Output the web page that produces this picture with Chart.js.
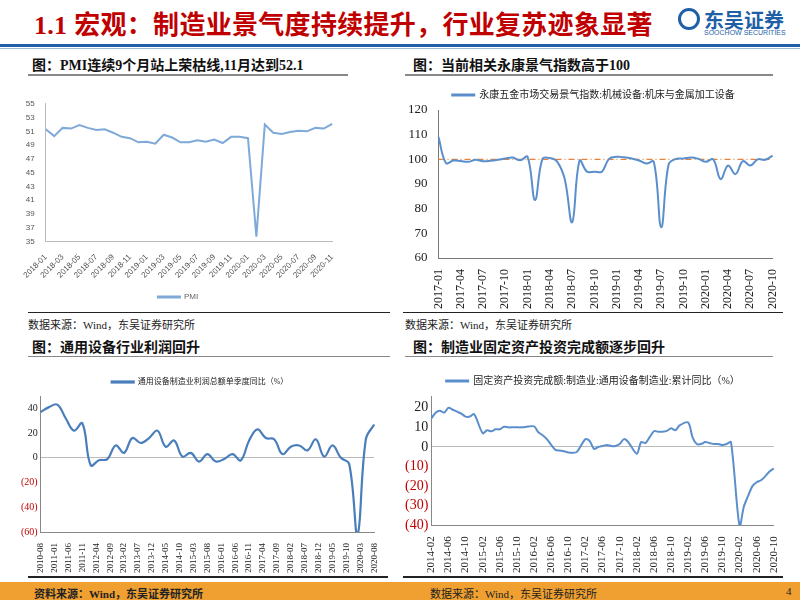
<!DOCTYPE html>
<html><head><meta charset="utf-8">
<script src="https://cdn.jsdelivr.net/npm/chart.js@4"></script>
<style>
body{margin:0;width:800px;height:600px;position:relative;background:#fff;font-family:"Liberation Serif","Noto Sans CJK SC",serif;overflow:hidden}
.a{position:absolute}
canvas{position:absolute}
.h{font-weight:bold;font-size:14px;color:#111}
.src{font-size:11px;color:#222}
</style></head><body>
<div class="a" style="left:34px;top:4px;font-size:26px;font-weight:bold;color:#c00000;letter-spacing:0.3px">1.1 宏观：制造业景气度持续提升，行业复苏迹象显著</div>
<div class="a" style="left:678px;top:8px;width:22px;height:22px;border:3px solid #1f5fa8;border-radius:50%;box-sizing:border-box"></div>
<div class="a" style="left:704px;top:5px;font-size:20px;font-weight:bold;color:#1f5fa8;font-family:'Noto Sans CJK SC'">东吴证券</div>
<div class="a" style="left:704px;top:29px;font-size:7px;color:#1f5fa8;font-family:'Liberation Sans'">SOOCHOW SECURITIES</div>
<div class="a" style="left:0;top:44px;width:800px;height:3px;background:#1f5fa8"></div>
<div class="a" style="left:0;top:48px;width:800px;height:1px;background:#9bb7d9"></div>

<div class="a h" style="left:32px;top:54px">图：PMI连续9个月站上荣枯线,11月达到52.1</div>
<div class="a h" style="left:413px;top:54px">图：当前相关永康景气指数高于100</div>
<div class="a" style="left:28px;top:74px;width:320px;height:2px;background:#888"></div>
<div class="a" style="left:405px;top:74px;width:368px;height:2px;background:#888"></div>
<div class="a" style="left:28px;top:312px;width:362px;height:1px;background:#222"></div>
<div class="a" style="left:403px;top:312px;width:380px;height:1px;background:#222"></div>
<div class="a src" style="left:28px;top:316px">数据来源：Wind，东吴证券研究所</div>
<div class="a src" style="left:405px;top:316px">数据来源：Wind，东吴证券研究所</div>

<div class="a h" style="left:32px;top:336px">图：通用设备行业利润回升</div>
<div class="a h" style="left:413px;top:336px">图：制造业固定资产投资完成额逐步回升</div>
<div class="a" style="left:28px;top:356px;width:362px;height:1px;background:#888"></div>
<div class="a" style="left:405px;top:356px;width:368px;height:1px;background:#888"></div>
<div class="a" style="left:28px;top:576px;width:360px;height:2px;background:#222"></div>
<div class="a" style="left:403px;top:576px;width:380px;height:2px;background:#222"></div>
<div class="a" style="left:0;top:582px;width:800px;height:18px;background:#f0a030"></div>
<div class="a src" style="left:34px;top:585px;font-weight:bold">资料来源：Wind，东吴证券研究所</div>
<div class="a src" style="left:430px;top:585px">数据来源：Wind，东吴证券研究所</div>
<div class="a src" style="left:786px;top:585px">4</div>

<canvas id="c1" width="320" height="215" style="left:22px;top:96px"></canvas>
<canvas id="c2" width="385" height="232" style="left:405px;top:80px"></canvas>
<canvas id="c3" width="370" height="212" style="left:18px;top:364px"></canvas>
<canvas id="c4" width="388" height="214" style="left:402px;top:362px"></canvas>
<script>
// ---- data ----
const pmiLabels=[];for(let y=2018;y<=2020;y++)for(let m=1;m<=12;m++){if(y===2020&&m>11)break;pmiLabels.push(y+'-'+String(m).padStart(2,'0'));}
const pmiValues=[51.3,50.3,51.5,51.4,51.9,51.5,51.2,51.3,50.8,50.2,50.0,49.4,
49.5,49.2,50.5,50.1,49.4,49.4,49.7,49.5,49.8,49.3,50.2,50.2,
50.0,35.7,52.0,50.8,50.6,50.9,51.1,51.0,51.5,51.4,52.1];

const ykLabels=[];for(let y=2017;y<=2020;y++)for(let m=1;m<=12;m++){if(y===2020&&m>10)break;ykLabels.push(y+'-'+String(m).padStart(2,'0'));}
const ykValues=[109,98.5,99.5,99.3,99,99.8,99.2,99.4,99.8,100.3,100.7,99.6,
101,83.5,100.2,100.5,99,92,74.5,99.5,95,95,95,100.3,
101,100.8,100.3,99.5,98.3,99,72.5,98,100.2,100.3,100.7,100.2,
99,100,92,97.5,94,99.3,97.5,100,99.8,101.5];
const ykRef=100;

const profLabels=[];{let y=2010,m=8;while(y<2020||(y===2020&&m<=8)){profLabels.push(y+'-'+String(m).padStart(2,'0'));m++;if(m>12){m=1;y++;}}}
const profPoints=[37,41,43,32,22,28,-6,-2,-1,10,4,16,12,16,22,9,14,1,4,-3,3,-3,-1,3,-2,14,23,16,15,3,9,10,6,15,1,10,0,-5,-62,15,27];
const profValues=profLabels.map((_,i)=>i%3===0?profPoints[i/3]:null);
const profTicks=[-60,-40,-20,0,20,40];

const faiLabels=[];{let y=2014,m=2;while(y<2020||(y===2020&&m<=10)){faiLabels.push(y+'-'+String(m).padStart(2,'0'));m++;if(m>12){m=1;y++;}}}
const faiReported=[14.5,17.5,18.5,17.5,20,19,18,17,15.5,15.5,16.7,
7,8.5,8,9,9,10.3,10,10,10,10,10.2,
10.5,7.5,6,4,1,-1.5,-1.8,-2.2,-2.8,-3,-2.5,
4,3,-1,0,0.5,1,0.5,0.5,1.5,4,2.5,
-3.5,2.5,2,5,8,7.8,7.8,8.2,9.5,8.5,11,
12.5,5,1.5,1.5,2.5,2,1.5,1.5,1,1.5,2.5,
-40.5,-30.5,-25,-20,-18,-17,-15,-12.5,-11];
const faiValues=[];{let k=0;faiLabels.forEach(l=>{faiValues.push(l.endsWith('-01')?null:faiReported[k++]);});}
const faiTicks=[-40,-30,-20,-10,0,10,20];

// ---- charts ----
const serif="'Liberation Serif','Noto Sans CJK SC',serif";
const blue='#5b8fcc';
const neg=v=>v<0?'('+Math.abs(v)+')':String(v);
const common={responsive:false,animation:false,devicePixelRatio:1};

new Chart(c1,{type:'line',data:{labels:pmiLabels,datasets:[{label:'PMI',data:pmiValues,borderColor:'#7ea9d9',borderWidth:2,pointRadius:0,tension:0}]},
options:{...common,layout:{padding:{right:8,top:6}},
plugins:{legend:{position:'bottom',labels:{boxWidth:22,boxHeight:1,font:{size:8,family:'Liberation Sans'},color:'#666'}}},
scales:{x:{grid:{display:false},border:{color:'#bbb'},ticks:{autoSkip:false,callback:(v,i)=>i%2===0?pmiLabels[i]:'',maxRotation:45,minRotation:45,font:{size:8,family:'Liberation Sans'},color:'#555'}},
y:{min:35,max:55,grid:{display:false},border:{color:'#bbb'},ticks:{stepSize:2,font:{size:8,family:'Liberation Sans'},color:'#555'}}}}});

new Chart(c2,{type:'line',data:{labels:ykLabels,datasets:[
{label:'永康五金市场交易景气指数:机械设备:机床与金属加工设备',data:ykValues,borderColor:blue,borderWidth:2,pointRadius:0,tension:0.4},
{label:'ref',data:ykLabels.map(()=>ykRef),borderColor:'#e8823a',borderWidth:1.2,borderDash:[6,3,1,3],pointRadius:0}]},
options:{...common,layout:{padding:{right:8}},
plugins:{legend:{labels:{filter:i=>i.text!=='ref',boxWidth:22,boxHeight:1,font:{size:10,family:serif},color:'#222'}}},
scales:{x:{grid:{display:false},border:{color:'#777'},ticks:{autoSkip:false,callback:(v,i)=>i%3===0?ykLabels[i]:'',maxRotation:90,minRotation:90,font:{size:12,family:serif},color:'#222'}},
y:{min:60,max:120,grid:{display:false},border:{color:'#777'},ticks:{stepSize:10,font:{size:13,family:serif},color:'#222'}}}}});

new Chart(c3,{type:'line',data:{labels:profLabels,datasets:[{label:'通用设备制造业利润总额单季度同比（%）',data:profValues,spanGaps:true,borderColor:'#4a7ebb',borderWidth:2.2,pointRadius:0,tension:0.4}]},
options:{...common,layout:{padding:{right:6}},
plugins:{legend:{labels:{boxWidth:22,boxHeight:1,font:{size:8,family:serif},color:'#222',padding:14}}},
scales:{x:{grid:{display:false},border:{color:'#888'},ticks:{autoSkip:false,callback:(v,i)=>i%5===0?profLabels[i]:null,maxRotation:90,minRotation:90,font:{size:9,family:serif},color:'#222'}},
y:{min:-60,max:50,afterBuildTicks:a=>{a.ticks=profTicks.map(v=>({value:v}));},grid:{drawTicks:false,color:c=>c.tick&&c.tick.value===0?'#bbb':'transparent'},border:{color:'#888'},
ticks:{callback:neg,font:{size:10,family:serif},color:c=>c.tick.value<0?'#c00000':'#222'}}}}});

new Chart(c4,{type:'line',data:{labels:faiLabels,datasets:[{label:'固定资产投资完成额:制造业:通用设备制造业:累计同比（%）',data:faiValues,spanGaps:true,borderColor:blue,borderWidth:2,pointRadius:0,tension:0.3}]},
options:{...common,layout:{padding:{right:6}},
plugins:{legend:{labels:{boxWidth:22,boxHeight:1,font:{size:10,family:serif},color:'#222',padding:14}}},
scales:{x:{grid:{display:false},border:{color:'#888'},ticks:{autoSkip:false,callback:(v,i)=>i%4===0?faiLabels[i]:null,maxRotation:90,minRotation:90,font:{size:11,family:serif},color:'#222'}},
y:{min:-40,max:26,afterBuildTicks:a=>{a.ticks=faiTicks.map(v=>({value:v}));},grid:{drawTicks:false,color:c=>c.tick&&c.tick.value===0?'#bbb':'transparent'},border:{color:'#888'},
ticks:{callback:neg,font:{size:14,family:serif},color:c=>c.tick.value<0?'#c00000':'#222'}}}}});
</script>
</body></html>
